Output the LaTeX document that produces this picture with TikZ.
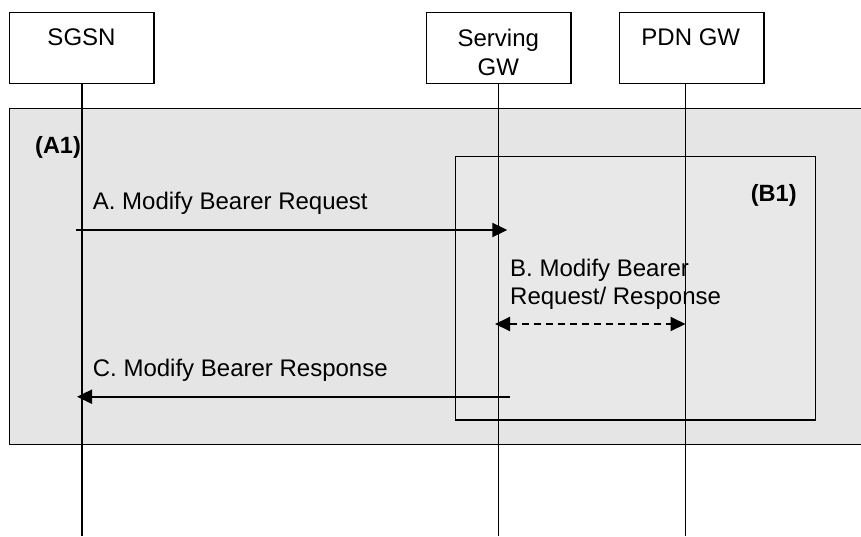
\documentclass[tikz,border=0pt]{standalone}
\usepackage{fontspec}
\setmainfont{Liberation Sans}
\usetikzlibrary{arrows.meta}
\begin{document}
\begin{tikzpicture}[x=1pt,y=-1pt,
  ent/.style={draw, line width=1.5pt, minimum width=144.7pt, minimum height=71pt, inner sep=0pt, outer sep=0pt},
  lbl/.style={anchor=base west, inner sep=0pt, font=\fontsize{24}{27.7}\selectfont},
  clbl/.style={anchor=base, inner sep=0pt, font=\fontsize{24}{27.7}\selectfont},
  blbl/.style={anchor=base west, inner sep=0pt, font=\fontsize{23.5}{27.7}\selectfont\bfseries},
  life/.style={line width=1.4pt},
  msg/.style={line width=2pt, -{Triangle[length=15pt,width=14pt]}},
  dmsg/.style={line width=2pt, dash pattern=on 7pt off 5pt, {Triangle[length=15pt,width=14pt]}-{Triangle[length=15pt,width=14pt]}},
  frame/.style={draw, line width=1.5pt}]
\useasboundingbox (0,0) rectangle (861,536);
\clip (0,0) rectangle (861,536);
% outer frame (A1)
\draw[frame, fill=black!10] (9.3,108.3) rectangle (875,444.3);
% inner frame (B1)
\draw[frame, fill=black!9] (455.7,156.7) rectangle (815.7,420);
% entities
\node[ent] (sgsn) at (81.65,47.8) {};
\node[ent] (sgw) at (498.85,47.8) {};
\node[ent] (pdn) at (691.8,47.8) {};
\node[clbl] (sgsnt) at (81.5,45.7) {SGSN};
\node[clbl] (sgwt) at (498.3,46.7) {Serving};
\node[clbl] (sgwt2) at (498.3,75.7) {GW};
\node[clbl] (pdnt) at (690.8,45) {PDN GW};
% lifelines
\coordinate (sgsnend) at (82,536);
\coordinate (sgwend) at (498.7,536);
\coordinate (pdnend) at (685.7,536);
\draw[life] (sgsnend |- sgsn.south) -- (sgsnend);
\draw[life] (sgwend |- sgw.south) -- (sgwend);
\draw[life] (pdnend |- pdn.south) -- (pdnend);
% labels
\node[blbl] (a1) at (35,153.3) {(A1)};
\node[blbl] (b1) at (750.7,201) {(B1)};
% message A
\coordinate (aS) at (75.7,230);
\coordinate (aE) at (507.3,230);
\draw[msg] (aS) -- (aE);
\node[lbl] (at) at (92.7,209) {A. Modify Bearer Request};
% message B
\coordinate (bS) at (495,324);
\coordinate (bE) at (685.5,324);
\draw[dmsg] (bS) -- (bE);
\node[lbl] (bt1) at (510,276.5) {B. Modify Bearer};
\node[lbl] (bt2) at (510,304.2) {Request/ Response};
% message C
\coordinate (cS) at (509.5,396.7);
\coordinate (cE) at (77,396.7);
\draw[msg] (cS) -- (cE);
\node[lbl] (ct) at (92.7,376.7) {C. Modify Bearer Response};
\end{tikzpicture}
\end{document}
